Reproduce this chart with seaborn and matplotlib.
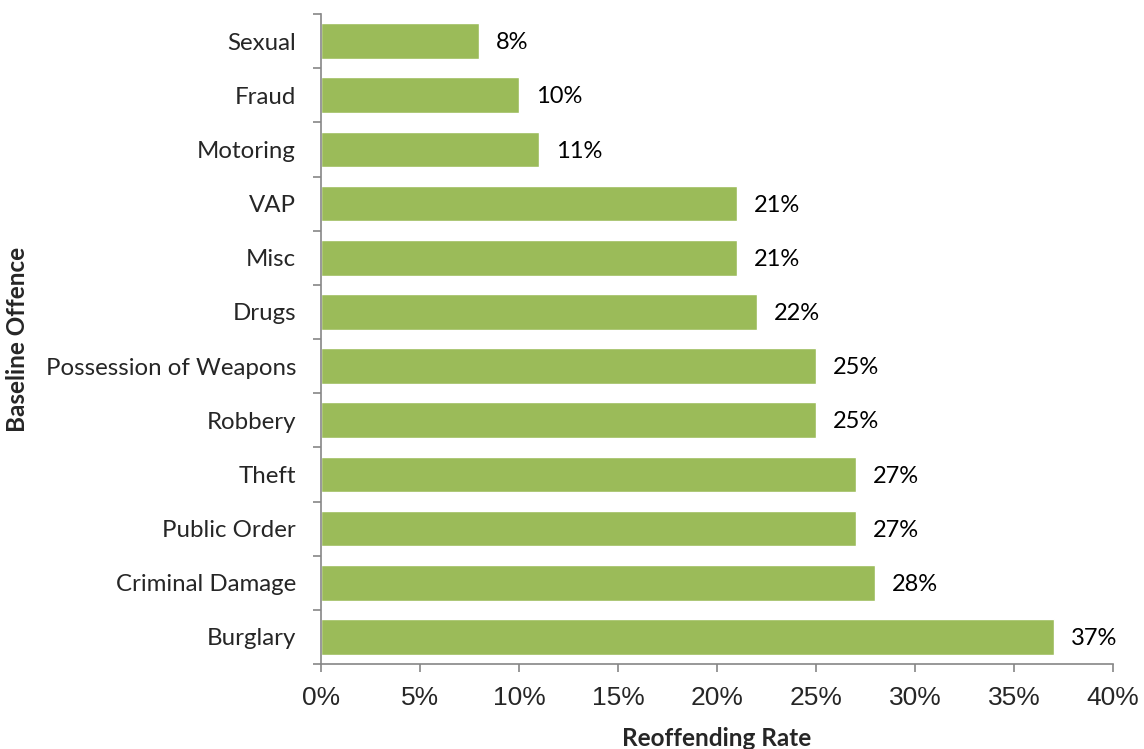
import matplotlib
matplotlib.use("Agg")
import matplotlib.pyplot as plt
import seaborn as sns
import pandas as pd
from matplotlib.ticker import FuncFormatter, MultipleLocator, FixedLocator, NullFormatter

offences = ["Sexual", "Fraud", "Motoring", "VAP", "Misc", "Drugs",
            "Possession of Weapons", "Robbery", "Theft", "Public Order",
            "Criminal Damage", "Burglary"]
rates = [8, 10, 11, 21, 21, 22, 25, 25, 27, 27, 28, 37]

df = pd.DataFrame({"Baseline Offence": offences, "Reoffending Rate": rates})

sns.set_theme(style="white")
plt.rcParams['font.family'] = ['Lato', 'DejaVu Sans']

fig = plt.figure(figsize=(11.44, 7.49), dpi=100)
ax = fig.add_axes([321/1144, 1-664/749, (1113-321)/1144, (664-14)/749])

sns.barplot(data=df, x="Reoffending Rate", y="Baseline Offence", orient="h",
            color="#9BBB59", saturation=1, width=0.66, ax=ax)

ax.set_xlim(0, 40)
ax.set_ylim(len(offences) - 0.5, -0.5)

for i, v in enumerate(rates):
    ax.text(v + 0.85, i + 0.03, f"{v}%", va="center", ha="left", fontsize=17, color="black",
            family=['Lato', 'DejaVu Sans'])

grey = "#868686"
for s in ["top", "right"]:
    ax.spines[s].set_visible(False)
for s in ["left", "bottom"]:
    ax.spines[s].set_color(grey)
    ax.spines[s].set_linewidth(1.2)

ax.xaxis.set_major_locator(MultipleLocator(5))
ax.xaxis.set_major_formatter(FuncFormatter(lambda x, p: f"{int(round(x))}%"))
ax.tick_params(axis="x", which="major", direction="out", length=6, width=1.2, color=grey,
               labelsize=19, pad=10, bottom=True)
for lab in ax.get_xticklabels():
    lab.set_family(['Liberation Sans', 'DejaVu Sans'])

ax.yaxis.set_major_locator(FixedLocator(range(len(offences))))
ax.set_yticklabels(offences)
ax.tick_params(axis="y", which="major", length=0, labelsize=17.3, pad=18)
ax.yaxis.set_minor_locator(FixedLocator([i - 0.5 for i in range(len(offences) + 1)]))
ax.yaxis.set_minor_formatter(NullFormatter())
ax.tick_params(axis="y", which="minor", direction="out", length=6, width=1.2, color=grey, left=True)

ax.set_xlabel("Reoffending Rate", fontsize=17.5, fontweight="bold", labelpad=12)
ax.set_ylabel("Baseline Offence", fontsize=17.5, fontweight="bold", labelpad=14)
ax.yaxis.set_label_coords(-(321 - 18) / 792, 0.5)
ax.xaxis.set_label_coords((717 - 321) / 792, -(738 - 664) / 650)
ax.xaxis.label.set_va("center")
ax.yaxis.label.set_va("center")

fig.savefig("out.png", dpi=100)
